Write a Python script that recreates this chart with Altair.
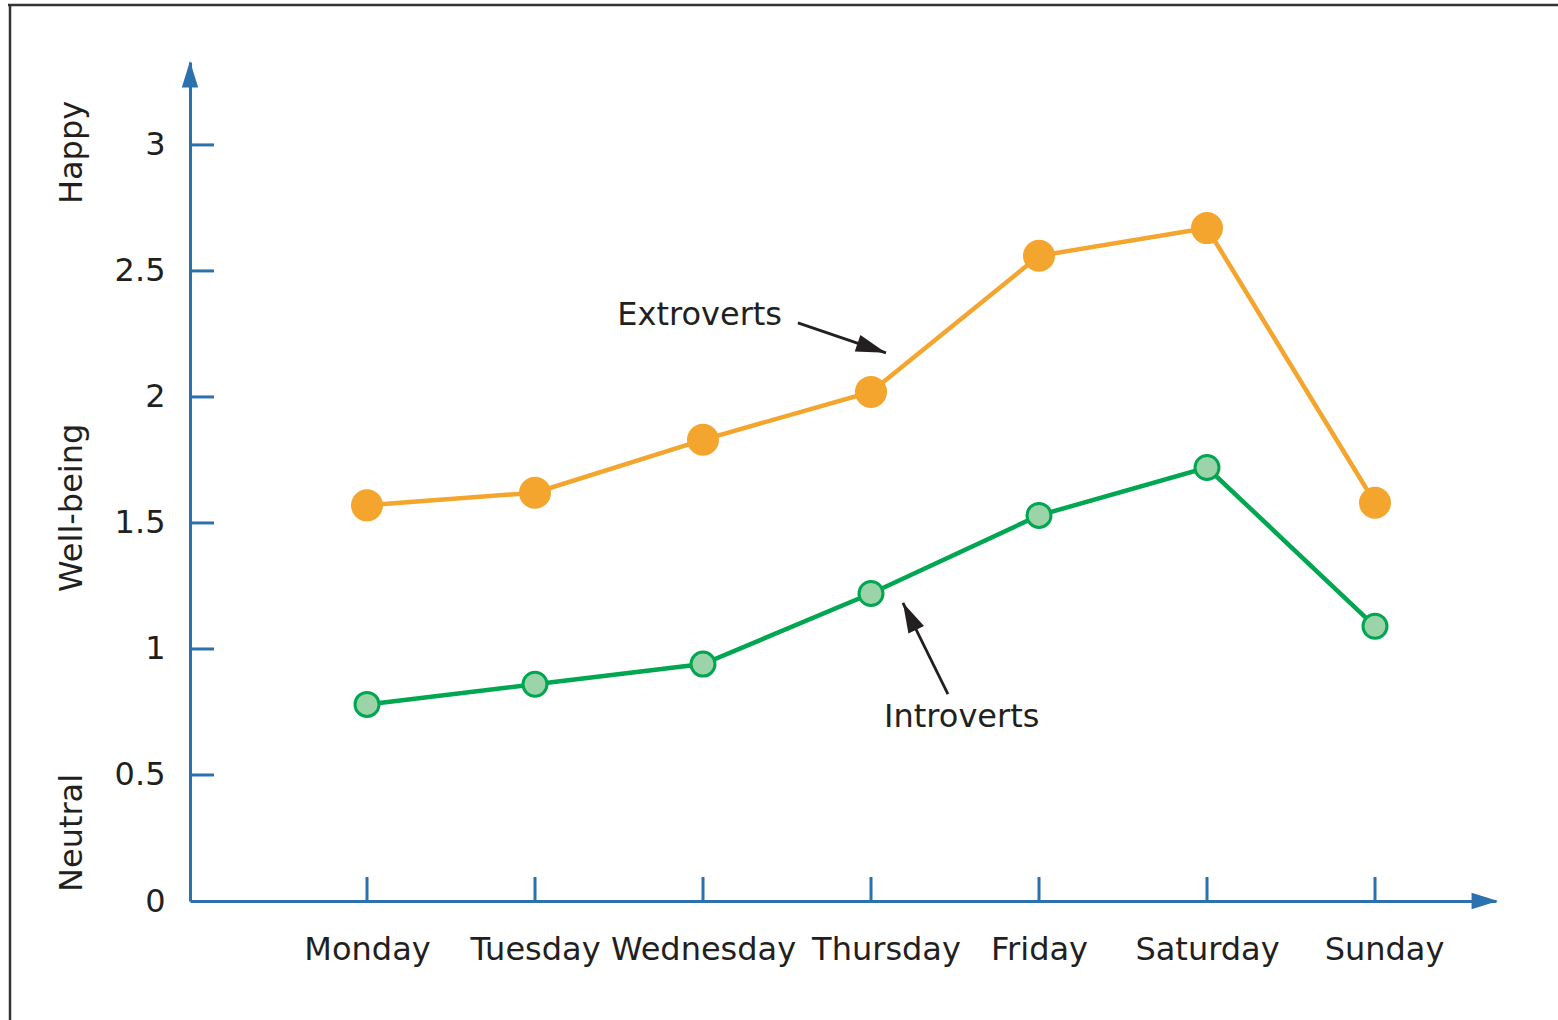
import altair as alt
import pandas as pd

# ---- data ----
days = ["Monday", "Tuesday", "Wednesday", "Thursday", "Friday", "Saturday", "Sunday"]
day_index = [1, 2, 3, 4, 5, 6, 7]
extroverts = [1.57, 1.62, 1.83, 2.02, 2.56, 2.67, 1.58]
introverts = [0.78, 0.86, 0.94, 1.22, 1.53, 1.72, 1.09]
y_ticks = [0.5, 1, 1.5, 2, 2.5, 3]
y_tick_labels = [0, 0.5, 1, 1.5, 2, 2.5, 3]
side_labels = ["Neutral", "Well-being", "Happy"]
side_label_y = [0.27, 1.56, 2.97]
annot_text = ["Extroverts", "Introverts"]
annot_text_x = [2.98, 4.54]
annot_text_y = [2.325, 0.73]
arrow_x1 = [3.565, 4.458]
arrow_y1 = [2.294, 0.821]
arrow_x2 = [4.089, 4.190]
arrow_y2 = [2.175, 1.183]
arrow_angle = [108.8, 333.7]

# ---- styles ----
W, H = 1306, 839
FONT = "DejaVu Sans"
FS = 32
AXIS = "#2A71AE"
ORANGE = "#F4A52E"
GREEN = "#00A650"
GREEN_FILL = "#9BD4A9"
TEXT = "#231F20"

xscale = alt.Scale(domain=[-0.0536, 7.7202], nice=False, zero=False)
yscale = alt.Scale(domain=[0, 3.329], nice=False, zero=False)

label_expr = "[" + ",".join(["''"] + [f"'{d}'" for d in days]) + "][datum.value]"

df = pd.DataFrame({"idx": day_index, "day": days, "ext": extroverts, "intro": introverts})

x_enc = alt.X("idx:Q", scale=xscale,
              axis=alt.Axis(values=day_index, labelExpr=label_expr, ticks=False,
                            domainColor=AXIS, domainWidth=3, grid=False,
                            labelFont=FONT, labelFontSize=FS, labelColor=TEXT,
                            labelPadding=33, title=None, labelFlush=False,
                            labelLimit=1000, labelOverlap=False,
                            labelOffset={"condition": [{"test": "datum.value == 4", "value": 15},
                                                       {"test": "datum.value == 7", "value": 9}],
                                         "value": 0}))
y_enc_ext = alt.Y("ext:Q", scale=yscale,
                  axis=alt.Axis(values=y_tick_labels, labelExpr="toString(datum.value)",
                                ticks=False, domainColor=AXIS, domainWidth=3, grid=False,
                                labelFont=FONT, labelFontSize=FS, labelColor=TEXT,
                                labelPadding=25, title=None, labelFlush=False,
                                labelOverlap=False))

ext_line = alt.Chart(df).mark_line(color=ORANGE, strokeWidth=4.5).encode(x=x_enc, y=y_enc_ext)
ext_pts = alt.Chart(df).mark_point(shape="circle", filled=True, opacity=1, color=ORANGE, size=1024).encode(
    x=alt.X("idx:Q", scale=xscale), y=alt.Y("ext:Q", scale=yscale))
int_line = alt.Chart(df).mark_line(color=GREEN, strokeWidth=4.5).encode(
    x=alt.X("idx:Q", scale=xscale), y=alt.Y("intro:Q", scale=yscale))
int_pts = alt.Chart(df).mark_point(shape="circle", filled=True, opacity=1, fill=GREEN_FILL,
                                   stroke=GREEN, strokeWidth=3, size=576).encode(
    x=alt.X("idx:Q", scale=xscale), y=alt.Y("intro:Q", scale=yscale))

# axis ticks (drawn inward)
ytick_df = pd.DataFrame({"v": y_ticks})
ytick = alt.Chart(ytick_df).mark_rule(color=AXIS, strokeWidth=3).encode(
    x=alt.value(0), x2=alt.value(24), y=alt.Y("v:Q", scale=yscale))
xtick_df = pd.DataFrame({"idx": day_index})
xtick = alt.Chart(xtick_df).mark_rule(color=AXIS, strokeWidth=3).encode(
    x=alt.X("idx:Q", scale=xscale), y=alt.value(H - 24), y2=alt.value(H))

one = pd.DataFrame({"a": [0]})
ARROW_PATH = "M0,0L0.62,2L-0.62,2Z"
y_arrow = alt.Chart(one).mark_point(shape=ARROW_PATH, filled=True, opacity=1, color=AXIS,
                                    size=700, angle=0).encode(x=alt.value(0), y=alt.value(-1))
x_arrow = alt.Chart(one).mark_point(shape=ARROW_PATH, filled=True, opacity=1, color=AXIS,
                                    size=700, angle=90).encode(x=alt.value(W + 2), y=alt.value(H))

# frame
frame_top = alt.Chart(one).mark_rule(color="#333333", strokeWidth=2.5).encode(
    x=alt.value(-182), x2=alt.value(1368), y=alt.value(-57))
frame_left = alt.Chart(one).mark_rule(color="#333333", strokeWidth=2.5).encode(
    x=alt.value(-180), y=alt.value(-58), y2=alt.value(960))

# side labels
side_df = pd.DataFrame({"t": side_labels, "y": side_label_y})
side = alt.Chart(side_df).mark_text(font=FONT, fontSize=FS, color=TEXT, angle=270,
                                    align="center", baseline="middle").encode(
    x=alt.value(-118), y=alt.Y("y:Q", scale=yscale), text="t:N")

# annotations
ann_df = pd.DataFrame({"t": annot_text, "x": annot_text_x, "y": annot_text_y,
                       "x1": arrow_x1, "y1": arrow_y1, "x2": arrow_x2, "y2": arrow_y2,
                       "ang": arrow_angle})
ann_text = alt.Chart(ann_df).mark_text(font=FONT, fontSize=FS, color=TEXT,
                                       align="center", baseline="middle").encode(
    x=alt.X("x:Q", scale=xscale), y=alt.Y("y:Q", scale=yscale), text="t:N")
ann_line = alt.Chart(ann_df).mark_rule(color=TEXT, strokeWidth=2.8).encode(
    x=alt.X("x1:Q", scale=xscale), y=alt.Y("y1:Q", scale=yscale),
    x2="x2:Q", y2="y2:Q")
ann_head = alt.Chart(ann_df).mark_point(shape="M0,0L0.58,2L-0.58,2Z", filled=True, opacity=1,
                                        color=TEXT, size=900).encode(
    x=alt.X("x2:Q", scale=xscale), y=alt.Y("y2:Q", scale=yscale),
    angle=alt.Angle("ang:Q", scale=None))

chart = alt.layer(
    frame_top, frame_left, ext_line, int_line, ytick, xtick, y_arrow, x_arrow,
    ext_pts, int_pts, side, ann_line, ann_head, ann_text
).properties(
    width=W, height=H,
    autosize=alt.AutoSizeParams(type="none"),
    padding={"left": 190, "top": 62, "right": 62, "bottom": 119},
    background="white",
).configure_view(stroke=None)

chart.save("out.html", embed_options={"renderer": "svg", "actions": False})
